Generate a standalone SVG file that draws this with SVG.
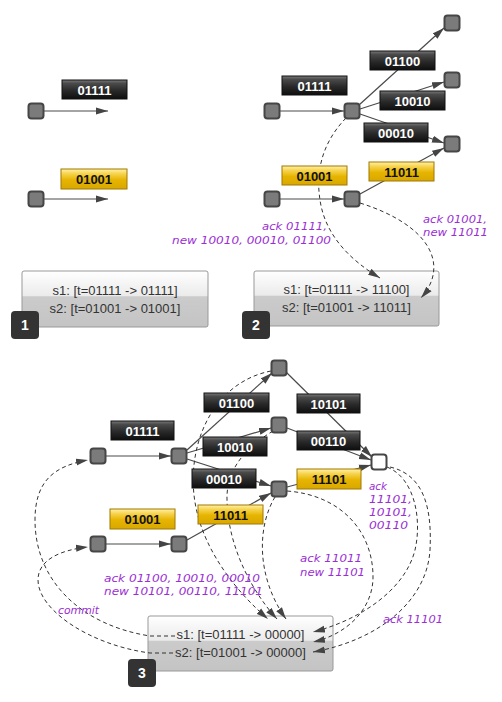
<svg xmlns="http://www.w3.org/2000/svg" width="502" height="702" viewBox="0 0 502 702">
<defs>
<linearGradient id="gDark" x1="0" y1="0" x2="0" y2="1">
<stop offset="0" stop-color="#7a7a7a"/><stop offset="0.18" stop-color="#4a4a4a"/><stop offset="0.55" stop-color="#2a2a2a"/><stop offset="1" stop-color="#0e0e0e"/>
</linearGradient>
<linearGradient id="gGold" x1="0" y1="0" x2="0" y2="1">
<stop offset="0" stop-color="#fff2a8"/><stop offset="0.25" stop-color="#f6d24a"/><stop offset="0.55" stop-color="#e6b400"/><stop offset="1" stop-color="#d9a800"/>
</linearGradient>
<linearGradient id="gBox" x1="0" y1="0" x2="0" y2="1">
<stop offset="0" stop-color="#ffffff"/><stop offset="0.44" stop-color="#ebebeb"/><stop offset="0.46" stop-color="#cbcbcb"/><stop offset="1" stop-color="#c4c4c4"/>
</linearGradient>
<marker id="ah" markerUnits="userSpaceOnUse" markerWidth="14" markerHeight="8" refX="12" refY="4" orient="auto">
<path d="M0,0.5 L12,4 L0,7.5 z" fill="#444"/>
</marker>
</defs>
<style>
.n{fill:#7b7b7b;stroke:#464646;stroke-width:2}
.nw{fill:#ffffff;stroke:#464646;stroke-width:2}
.e{stroke:#4a4a4a;stroke-width:1.2;fill:none;marker-end:url(#ah)}
.d{stroke:#333;stroke-width:1;stroke-dasharray:4 3;fill:none;marker-end:url(#ah)}
.ld{fill:url(#gDark);stroke:#111;stroke-width:1}
.lg{fill:url(#gGold);stroke:#a07800;stroke-width:1}
.tl{font-family:"Liberation Sans",Arial,sans-serif;font-size:13px;font-weight:bold;text-anchor:middle}
.tw{fill:#fff}
.tb{fill:#111}
.box{fill:url(#gBox);stroke:#999;stroke-width:1}
.bt{font-family:"Liberation Sans",Arial,sans-serif;font-size:13px;fill:#333;text-anchor:middle}
.badge{fill:#333}
.bn{font-family:"Liberation Sans",Arial,sans-serif;font-size:14px;font-weight:bold;fill:#fff;text-anchor:middle}
.hw{font-family:"DejaVu Sans",sans-serif;font-style:italic;font-size:11px;fill:#9a2fd4}
</style>

<g id="boxes">
<g id="box1"><rect class="box" x="22" y="271" width="186" height="56" rx="2"/>
<text class="bt" x="115" y="294.5">s1: [t=01111 -&gt; 01111]</text>
<text class="bt" x="115" y="312.5">s2: [t=01001 -&gt; 01001]</text></g>
<g id="box2"><rect class="box" x="254" y="271" width="185" height="55" rx="2"/>
<text class="bt" x="346.5" y="293.5">s1: [t=01111 -&gt; 11100]</text>
<text class="bt" x="346.5" y="311.5">s2: [t=01001 -&gt; 11011]</text></g>
<g id="box3"><rect class="box" x="148" y="616" width="185" height="55" rx="2"/>
<text class="bt" x="240.5" y="638.5">s1: [t=01111 -&gt; 00000]</text>
<text class="bt" x="240.5" y="656.5">s2: [t=01001 -&gt; 00000]</text></g>
</g>

<g id="connectors">
<path class="e" d="M44,111 L108,111"/>
<path class="e" d="M44,199 L108,199"/>
<path class="e" d="M280,111 L344,111"/>
<path class="e" d="M359,105 L444,28"/>
<path class="e" d="M360,109 L444,82"/>
<path class="e" d="M360,114 L444,143"/>
<path class="e" d="M280,199 L344,199"/>
<path class="e" d="M360,194 L444,148"/>
<path class="d" d="M346,118 C320,145 316,175 320,200 C325,235 350,260 380,278"/>
<path class="d" d="M360,203 C430,225 450,265 421,298"/>
<path class="e" d="M106,456 L171,456"/>
<path class="e" d="M187,450 L272,373"/>
<path class="e" d="M187,453 L271,428"/>
<path class="e" d="M187,459 L271,486"/>
<path class="e" d="M106,544 L171,544"/>
<path class="e" d="M187,540 L271,493"/>
<path class="e" d="M286,372 L372,457"/>
<path class="e" d="M287,428 L371,460"/>
<path class="e" d="M287,487 L371,465"/>
<path class="d" d="M271,371 C215,382 188,440 194,495 C200,550 240,595 268,619"/>
<path class="d" d="M273,431 C245,448 226,470 227,500 C228,550 255,595 277,619"/>
<path class="d" d="M275,497 C258,525 255,575 286,619"/>
<path class="d" d="M287,491 C340,495 372,530 373,575 C374,610 345,635 313,642"/>
<path class="d" d="M387,467 C415,478 422,520 415,550 C405,590 360,620 313,632"/>
<path class="d" d="M390,467 C425,475 432,510 430,550 C427,600 380,640 313,652"/>
<path class="d" d="M175,636 L150,636 C80,625 35,580 35,520 C35,480 55,466 88,460"/>
<path class="d" d="M173,653 L150,653 C90,645 38,610 38,580 C38,560 60,550 88,547"/>
</g>

<g id="labels">
<g id="p1-l01111"><rect class="ld" x="62" y="80" width="65" height="19"/><text class="tl tw" x="94.5" y="94.5">01111</text></g>
<g id="p1-l01001"><rect class="lg" x="61" y="169" width="66" height="20"/><text class="tl tb" x="94" y="184">01001</text></g>
<g id="p2-l01111"><rect class="ld" x="282" y="76" width="65" height="19"/><text class="tl tw" x="314.5" y="90.5">01111</text></g>
<g id="p2-l01100"><rect class="ld" x="370" y="51" width="65" height="19"/><text class="tl tw" x="402.5" y="65.5">01100</text></g>
<g id="p2-l10010"><rect class="ld" x="380" y="91" width="65" height="19"/><text class="tl tw" x="412.5" y="105.5">10010</text></g>
<g id="p2-l00010"><rect class="ld" x="364" y="123" width="64" height="19"/><text class="tl tw" x="396" y="137.5">00010</text></g>
<g id="p2-l01001"><rect class="lg" x="282" y="166" width="65" height="19"/><text class="tl tb" x="314.5" y="180.5">01001</text></g>
<g id="p2-l11011"><rect class="lg" x="369" y="162" width="65" height="19"/><text class="tl tb" x="401.5" y="176.5">11011</text></g>
<g id="p3-l01111"><rect class="ld" x="111" y="421" width="63" height="19"/><text class="tl tw" x="142.5" y="435.5">01111</text></g>
<g id="p3-l01100"><rect class="ld" x="204" y="393" width="65" height="19"/><text class="tl tw" x="236.5" y="407.5">01100</text></g>
<g id="p3-l10010"><rect class="ld" x="203" y="437" width="64" height="19"/><text class="tl tw" x="235" y="451.5">10010</text></g>
<g id="p3-l00010"><rect class="ld" x="192" y="469" width="64" height="19"/><text class="tl tw" x="224" y="483.5">00010</text></g>
<g id="p3-l01001"><rect class="lg" x="110" y="509" width="65" height="20"/><text class="tl tb" x="142.5" y="524">01001</text></g>
<g id="p3-l11011"><rect class="lg" x="198" y="505" width="65" height="19"/><text class="tl tb" x="230.5" y="519.5">11011</text></g>
<g id="p3-l10101"><rect class="ld" x="297" y="394" width="63" height="19"/><text class="tl tw" x="328.5" y="408.5">10101</text></g>
<g id="p3-l00110"><rect class="ld" x="297" y="431" width="63" height="19"/><text class="tl tw" x="328.5" y="445.5">00110</text></g>
<g id="p3-l11101"><rect class="lg" x="297" y="469" width="64" height="20"/><text class="tl tb" x="329" y="484">11101</text></g>
</g>

<g id="nodes">
<g id="p1-a"><rect class="n" x="28.5" y="103.5" width="15" height="15" rx="3"/></g>
<g id="p1-b"><rect class="n" x="28.5" y="191.5" width="15" height="15" rx="3"/></g>
<g id="p2-a"><rect class="n" x="264.5" y="103.5" width="15" height="15" rx="3"/></g>
<g id="p2-hub"><rect class="n" x="344.5" y="103.5" width="15" height="15" rx="3"/></g>
<g id="p2-t"><rect class="n" x="444.5" y="15.5" width="15" height="15" rx="3"/></g>
<g id="p2-m"><rect class="n" x="444.5" y="72.5" width="15" height="15" rx="3"/></g>
<g id="p2-r"><rect class="n" x="444.5" y="136.5" width="15" height="15" rx="3"/></g>
<g id="p2-b"><rect class="n" x="264.5" y="191.5" width="15" height="15" rx="3"/></g>
<g id="p2-hubb"><rect class="n" x="344.5" y="191.5" width="15" height="15" rx="3"/></g>
<g id="p3-a"><rect class="n" x="90.5" y="448.5" width="15" height="15" rx="3"/></g>
<g id="p3-hub"><rect class="n" x="171.5" y="448.5" width="15" height="15" rx="3"/></g>
<g id="p3-t"><rect class="n" x="271.5" y="360.5" width="15" height="15" rx="3"/></g>
<g id="p3-m"><rect class="n" x="271.5" y="417.5" width="15" height="15" rx="3"/></g>
<g id="p3-n"><rect class="n" x="271.5" y="481.5" width="15" height="15" rx="3"/></g>
<g id="p3-b"><rect class="n" x="90.5" y="536.5" width="15" height="15" rx="3"/></g>
<g id="p3-hubb"><rect class="n" x="171.5" y="536.5" width="15" height="15" rx="3"/></g>
<g id="p3-f"><rect class="nw" x="371.5" y="454.5" width="15" height="15" rx="3"/></g>
</g>

<g id="badges">
<g id="badge1"><rect class="badge" x="11" y="311" width="28" height="28" rx="4"/><text class="bn" x="25" y="330">1</text></g>
<g id="badge2"><rect class="badge" x="242" y="311" width="28" height="28" rx="4"/><text class="bn" x="256" y="330">2</text></g>
<g id="badge3"><rect class="badge" x="128" y="659" width="28" height="28" rx="4"/><text class="bn" x="142" y="678">3</text></g>
</g>

<g id="notes">
<text class="hw" x="262" y="230" textLength="65" lengthAdjust="spacingAndGlyphs">ack 01111,</text>
<text class="hw" x="172" y="244" textLength="159" lengthAdjust="spacingAndGlyphs">new 10010, 00010, 01100</text>
<text class="hw" x="423" y="223" textLength="64" lengthAdjust="spacingAndGlyphs">ack 01001,</text>
<text class="hw" x="423" y="236" textLength="65" lengthAdjust="spacingAndGlyphs">new 11011</text>
<text class="hw" x="104" y="582" textLength="156" lengthAdjust="spacingAndGlyphs">ack 01100, 10010, 00010</text>
<text class="hw" x="104" y="595" textLength="159" lengthAdjust="spacingAndGlyphs">new 10101, 00110, 11101</text>
<text class="hw" x="58" y="614" textLength="41" lengthAdjust="spacingAndGlyphs">commit</text>
<text class="hw" x="300" y="562" textLength="62" lengthAdjust="spacingAndGlyphs">ack 11011</text>
<text class="hw" x="300" y="576" textLength="65" lengthAdjust="spacingAndGlyphs">new 11101</text>
<text class="hw" x="369" y="490" textLength="18" lengthAdjust="spacingAndGlyphs">ack</text>
<text class="hw" x="369" y="503" textLength="43" lengthAdjust="spacingAndGlyphs">11101,</text>
<text class="hw" x="369" y="516" textLength="43" lengthAdjust="spacingAndGlyphs">10101,</text>
<text class="hw" x="369" y="529" textLength="39" lengthAdjust="spacingAndGlyphs">00110</text>
<text class="hw" x="383" y="623" textLength="60" lengthAdjust="spacingAndGlyphs">ack 11101</text>
</g>
</svg>
